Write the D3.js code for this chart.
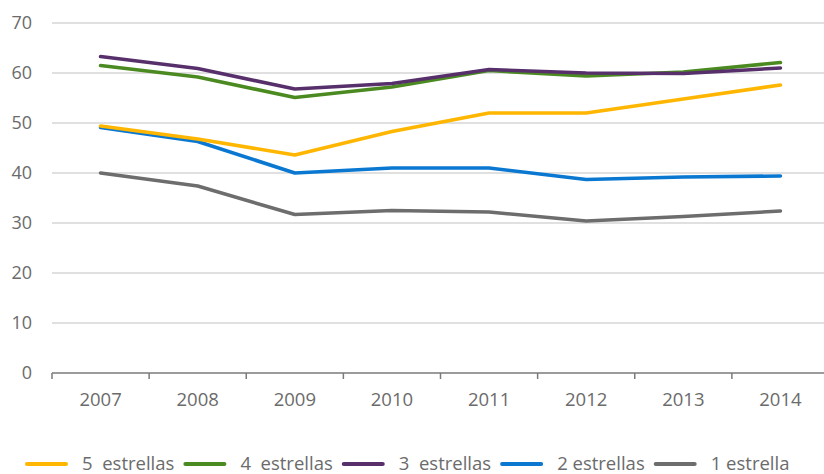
<!DOCTYPE html>
<html>
<head>
<meta charset="utf-8">
<script src="https://cdn.jsdelivr.net/npm/d3@7"></script>
<style>
  body { margin: 0; background: #fff; }
  svg text { font-family: "Open Sans", "Noto Sans", sans-serif; fill: #6b6b6b; }
</style>
</head>
<body>
<svg id="chart" width="824" height="474"></svg>
<script>
// years on the x axis
var years = ["2007", "2008", "2009", "2010", "2011", "2012", "2013", "2014"];

// values
var cinco = [49.4, 46.8, 43.6, 48.3, 52.0, 52.0, 54.8, 57.6];
var cuatro = [61.5, 59.2, 55.1, 57.2, 60.5, 59.4, 60.2, 62.1];
var tres = [63.3, 60.9, 56.8, 57.9, 60.7, 60.0, 59.9, 61.0];
var dos = [49.1, 46.3, 40.0, 41.0, 41.0, 38.7, 39.2, 39.4];
var una = [40.0, 37.4, 31.7, 32.5, 32.2, 30.4, 31.3, 32.4];

var yTicks = [0, 10, 20, 30, 40, 50, 60, 70];

var series = [
  { name: "5  estrellas", values: cinco, color: "#ffb600" },
  { name: "4  estrellas", values: cuatro, color: "#4b8a21" },
  { name: "3  estrellas", values: tres, color: "#57306b" },
  { name: "2 estrellas", values: dos, color: "#0a78d1" },
  { name: "1 estrella", values: una, color: "#6d6d6d" }
];

var svg = d3.select("#chart");
var mLeft = 52, mRight = 829, mTop = 23, mBottom = 373;

var x = d3.scaleBand().domain(years).range([mLeft, mRight]);
var y = d3.scaleLinear().domain([0, 70]).range([mBottom, mTop]);

// gridlines
svg.append("g")
  .selectAll("line")
  .data(yTicks.filter(d => d > 0))
  .join("line")
  .attr("x1", mLeft)
  .attr("x2", 824)
  .attr("y1", d => y(d))
  .attr("y2", d => y(d))
  .attr("stroke", "#d6d6d6")
  .attr("stroke-width", 1.3);

// y labels
svg.append("g")
  .selectAll("text")
  .data(yTicks)
  .join("text")
  .attr("x", 32)
  .attr("y", d => y(d))
  .attr("dy", "0.35em")
  .attr("text-anchor", "end")
  .attr("font-size", 18)
  .text(d => d);

// x axis
var xAxis = svg.append("g")
  .attr("transform", "translate(0," + mBottom + ")")
  .call(d3.axisBottom(x).tickSize(0).tickPadding(20));
xAxis.select(".domain").attr("stroke", "#7a7a7a").attr("stroke-width", 1.5)
  .attr("d", "M" + mLeft + ",0H824");
xAxis.selectAll("text").attr("font-size", 18.5).attr("fill", "#6b6b6b")
  .attr("font-family", "Open Sans, Noto Sans, sans-serif");

// tick marks at band edges
svg.append("g")
  .selectAll("line")
  .data(years)
  .join("line")
  .attr("x1", d => x(d))
  .attr("x2", d => x(d))
  .attr("y1", mBottom)
  .attr("y2", mBottom + 6)
  .attr("stroke", "#7a7a7a")
  .attr("stroke-width", 1.5);

var line = d3.line()
  .x((d, i) => x(years[i]) + x.bandwidth() / 2)
  .y(d => y(d));

// draw bottom-most first so purple/green overlap like the original
var order = [4, 3, 0, 1, 2];
svg.append("g")
  .selectAll("path")
  .data(order.map(i => series[i]))
  .join("path")
  .attr("d", d => line(d.values))
  .attr("fill", "none")
  .attr("stroke", d => d.color)
  .attr("stroke-width", 3.6)
  .attr("stroke-linejoin", "round")
  .attr("stroke-linecap", "round");

// legend
var legend = svg.append("g");
var lx = 26, ly = 464;
series.forEach(function (s) {
  legend.append("line")
    .attr("x1", lx + 1).attr("x2", lx + 40)
    .attr("y1", ly).attr("y2", ly)
    .attr("stroke", s.color)
    .attr("stroke-width", 4)
    .attr("stroke-linecap", "round");
  var t = legend.append("text")
    .attr("x", lx + 56)
    .attr("y", ly)
    .attr("dy", "0.35em")
    .attr("font-size", 18.5)
    .style("white-space", "pre")
    .text(s.name);
  lx = lx + 56 + t.node().getComputedTextLength() + 10;
});
</script>
</body>
</html>
